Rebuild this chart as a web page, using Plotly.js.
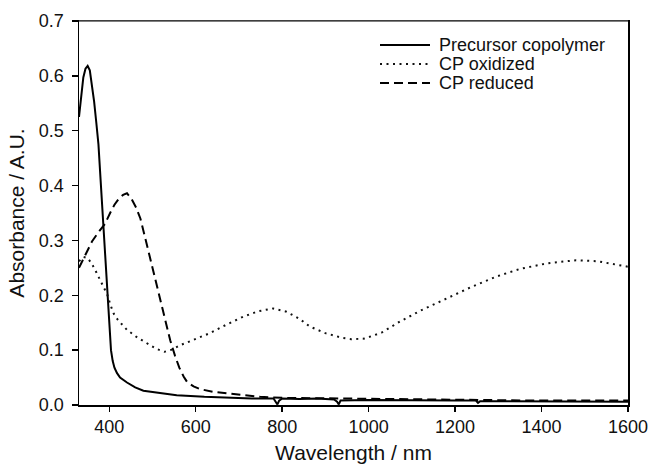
<!DOCTYPE html>
<html>
<head>
<meta charset="utf-8">
<script src="https://cdn.plot.ly/plotly-3.0.1.min.js"></script>
<style>html,body{margin:0;padding:0;background:#fff;}#chart{width:652px;height:465px;}</style>
</head>
<body>
<div id="chart"></div>
<script>
// ---- data ----
var seriesNames = ["Precursor copolymer", "CP oxidized", "CP reduced"];

var precursorX = [330,335,340,345,350,355,360,365,370,375,380,385,390,395,400,404,408,412,418,425,441,460,479,520,556,620,672,730,780,785,789,793,800,840,880,920,927,931,935,1000,1100,1200,1248,1253,1258,1350,1450,1600];
var precursorY = [0.525,0.565,0.597,0.613,0.618,0.610,0.585,0.553,0.515,0.475,0.410,0.345,0.280,0.215,0.155,0.100,0.080,0.068,0.058,0.050,0.041,0.032,0.026,0.021,0.018,0.015,0.013,0.012,0.012,0.006,0.001,0.008,0.012,0.011,0.012,0.010,0.006,0.001,0.008,0.009,0.008,0.008,0.008,0.004,0.007,0.007,0.007,0.006];

var oxidizedX = [330,340,350,360,370,379,387,395,403,410,420,441,465,487,510,528,545,564,600,633,670,710,745,779,810,840,864,900,941,960,990,1030,1072,1120,1180,1240,1295,1350,1411,1480,1530,1570,1600];
var oxidizedY = [0.262,0.270,0.268,0.257,0.242,0.228,0.215,0.202,0.182,0.167,0.155,0.137,0.123,0.112,0.102,0.097,0.101,0.109,0.120,0.131,0.146,0.161,0.171,0.176,0.170,0.157,0.143,0.131,0.122,0.120,0.121,0.132,0.152,0.172,0.194,0.216,0.234,0.248,0.258,0.264,0.262,0.257,0.252];

var reducedX = [330,345,360,375,390,402,412,422,432,441,452,462,472,483,495,507,518,530,541,552,562,572,580,595,610,640,672,710,749,800,900,1000,1100,1200,1300,1400,1500,1600];
var reducedY = [0.250,0.275,0.298,0.315,0.330,0.350,0.365,0.376,0.383,0.386,0.375,0.360,0.340,0.305,0.266,0.228,0.191,0.155,0.118,0.090,0.068,0.052,0.042,0.034,0.029,0.024,0.021,0.018,0.015,0.013,0.012,0.011,0.010,0.009,0.009,0.008,0.008,0.008];

var xTickVals = [400,600,800,1000,1200,1400,1600];
var yTickVals = [0.0,0.1,0.2,0.3,0.4,0.5,0.6,0.7];

// ---- styling ----
var FONT = "Liberation Sans, Arial, Helvetica, sans-serif";
var W = 652, H = 465, ML = 79, MR = 24, MT = 21, MB = 60;
var styles = [
  {color: "#000", width: 2, dash: "solid"},
  {color: "#111", width: 2, dash: "2px,4.5px"},
  {color: "#000", width: 2, dash: "9px,5px"}
];

var traces = [
  {x: precursorX, y: precursorY, name: seriesNames[0], type: "scatter", mode: "lines", line: styles[0], showlegend: false},
  {x: oxidizedX, y: oxidizedY, name: seriesNames[1], type: "scatter", mode: "lines", line: styles[1], showlegend: false},
  {x: reducedX, y: reducedY, name: seriesNames[2], type: "scatter", mode: "lines", line: styles[2], showlegend: false}
];

// manual legend (pixel positions converted to paper coords)
function px2paperX(p){ return (p - ML) / (W - ML - MR); }
function px2paperY(p){ return (H - MB - p) / (H - MT - MB); }
var legRows = [45, 64, 83];
var shapes = [], annotations = [];
for (var i = 0; i < seriesNames.length; i++) {
  shapes.push({type: "line", xref: "paper", yref: "paper",
    x0: px2paperX(380), x1: px2paperX(430), y0: px2paperY(legRows[i]), y1: px2paperY(legRows[i]),
    line: styles[i]});
  annotations.push({xref: "paper", yref: "paper", x: px2paperX(437), y: px2paperY(legRows[i]),
    xanchor: "left", yanchor: "middle", showarrow: false, text: seriesNames[i],
    font: {family: FONT, size: 18, color: "#111"}});
}
// top frame line drawn in grey as in the reference
shapes.push({type: "line", xref: "paper", yref: "paper", x0: 0, x1: 1, y0: 1, y1: 1,
  line: {color: "#555", width: 1.5}});

var layout = {
  width: W, height: H,
  margin: {l: ML, r: MR, t: MT, b: MB},
  paper_bgcolor: "#fff", plot_bgcolor: "#fff",
  showlegend: false,
  font: {family: FONT, size: 18, color: "#111"},
  xaxis: {
    range: [330, 1600], tickvals: xTickVals, ticktext: xTickVals.map(String),
    showgrid: false, zeroline: false, showline: true, mirror: true,
    linecolor: "#000", linewidth: 1.5, ticks: "outside", ticklen: 5, tickwidth: 1.5, tickcolor: "#000",
    tickfont: {family: FONT, size: 18, color: "#111"},
    title: {text: "Wavelength / nm", font: {family: FONT, size: 21, color: "#111"}, standoff: 9}
  },
  yaxis: {
    range: [0, 0.7], tickvals: yTickVals, ticktext: yTickVals.map(function(v){return v.toFixed(1);}),
    showgrid: false, zeroline: false, showline: true, mirror: true,
    linecolor: "#000", linewidth: 1.5, ticks: "outside", ticklen: 6, tickwidth: 1.5, tickcolor: "#000",
    tickfont: {family: FONT, size: 18, color: "#111"},
    ticklabelstandoff: 4,
    title: {text: "Absorbance / A.U.", font: {family: FONT, size: 21, color: "#111"}, standoff: 8}
  },
  shapes: shapes,
  annotations: annotations
};

Plotly.newPlot("chart", traces, layout, {displayModeBar: false, staticPlot: true});
</script>
</body>
</html>
